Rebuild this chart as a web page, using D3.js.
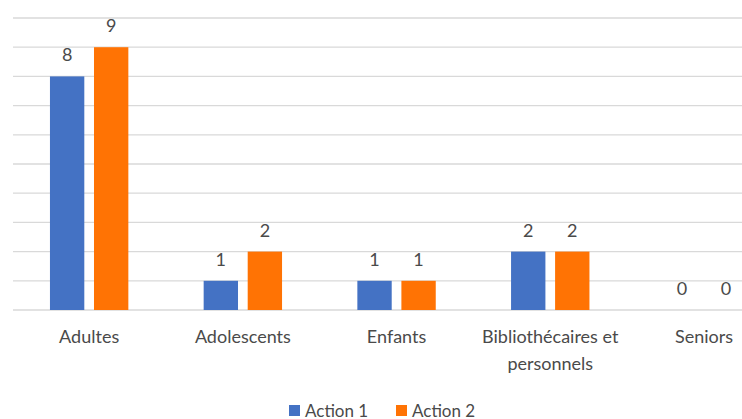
<!DOCTYPE html>
<html>
<head>
<meta charset="utf-8">
<script src="https://cdn.jsdelivr.net/npm/d3@7"></script>
<style>
  body { margin: 0; background: #fff; }
  svg text { font-family: Lato, "Open Sans", sans-serif; fill: #4a4a4a; }
</style>
</head>
<body>
<svg width="742" height="419"></svg>
<script>
// categories and values
var categories = ["Adultes", "Adolescents", "Enfants", "Bibliothécaires et personnels", "Seniors"];
var seriesNames = ["Action 1", "Action 2"];
var action1 = [8, 1, 1, 2, 0];
var action2 = [9, 2, 1, 2, 0];
var colors = ["#4472C4", "#FF7304"];
var gridTicks = [0, 1, 2, 3, 4, 5, 6, 7, 8, 9, 10];

var svg = d3.select("svg");

var rows = categories.map(function(c, i){ return { cat: c, values: [action1[i], action2[i]] } });

// plot runs past the right edge like the original (it's clipped there)
var x0 = d3.scaleBand().domain(categories).range([12.3, 780.8]).paddingInner(0.49).paddingOuter(0.245);
var x1 = d3.scaleBand().domain(seriesNames).range([0, x0.bandwidth()]).paddingInner(0.22);
var y = d3.scaleLinear().domain([0, 10]).range([310, 18]);

// gridlines
svg.append("g")
  .selectAll("line").data(gridTicks).enter()
  .append("line")
  .attr("x1", 13).attr("x2", 742)
  .attr("y1", function(d){ return y(d) })
  .attr("y2", function(d){ return y(d) })
  .attr("stroke", "#d9d9d9")
  .attr("stroke-width", 1.3);

var groups = svg.selectAll("g.cat").data(rows).enter()
  .append("g").attr("class", "cat")
  .attr("transform", function(d){ return "translate(" + x0(d.cat) + ",0)" });

groups.selectAll("rect")
  .data(function(d){ return d.values.map(function(v, j){ return { s: seriesNames[j], v: v, j: j } }) })
  .enter().append("rect")
  .attr("x", function(d){ return x1(d.s) })
  .attr("y", function(d){ return y(d.v) })
  .attr("width", x1.bandwidth())
  .attr("height", function(d){ return y(0) - y(d.v) })
  .attr("fill", function(d){ return colors[d.j] });

// value labels
groups.selectAll("text.val")
  .data(function(d){ return d.values.map(function(v, j){ return { s: seriesNames[j], v: v } }) })
  .enter().append("text").attr("class", "val")
  .attr("x", function(d){ return x1(d.s) + x1.bandwidth() / 2 })
  .attr("y", function(d){ return y(d.v) - 15 })
  .attr("text-anchor", "middle")
  .style("font-size", "18px")
  .text(function(d){ return d.v });

// category labels, wrapped the way the original is
var catLines = { "Bibliothécaires et personnels": ["Bibliothécaires et", "personnels"] };
svg.selectAll("text.cat").data(categories).enter()
  .append("text").attr("class", "cat")
  .attr("text-anchor", "middle")
  .style("font-size", "18px")
  .attr("transform", function(d){ return "translate(" + (x0(d) + x0.bandwidth() / 2) + ",343)" })
  .each(function(d){
    var lines = catLines[d] || [d];
    var t = d3.select(this);
    lines.forEach(function(l, i){
      t.append("tspan").attr("x", 0).attr("y", i * 27).text(l);
    });
  });

// legend
var legendX = [289, 396];
var legend = svg.selectAll("g.leg").data(seriesNames).enter()
  .append("g").attr("class", "leg")
  .attr("transform", function(d, i){ return "translate(" + legendX[i] + ",405)" });
legend.append("rect").attr("width", 11).attr("height", 11)
  .attr("fill", function(d, i){ return colors[i] });
legend.append("text").attr("x", 16).attr("y", 11.5)
  .style("font-size", "17px")
  .text(function(d){ return d });
</script>
</body>
</html>
